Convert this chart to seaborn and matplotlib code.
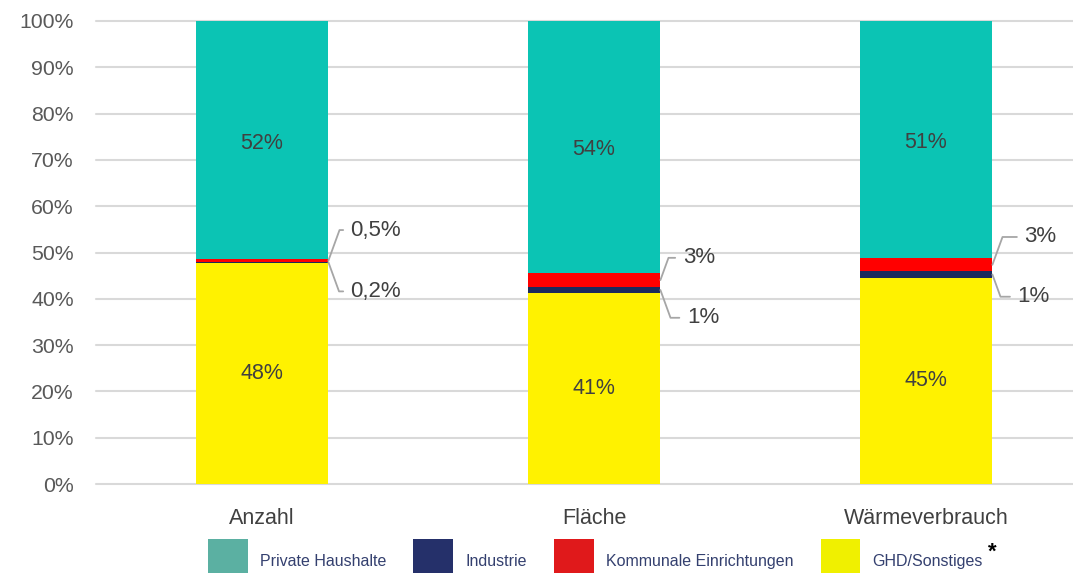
import numpy as np
import pandas as pd
import seaborn as sns
import matplotlib.pyplot as plt
from matplotlib.patches import Patch

# data (shares in %)
categories = ["Anzahl", "Fläche", "Wärmeverbrauch"]
series = ["GHD/Sonstiges", "Industrie", "Kommunale Einrichtungen", "Private Haushalte"]
ghd = [47.8, 41.3, 44.6]
industrie = [0.2, 1.2, 1.3]
kommunal = [0.5, 3.1, 2.9]
private = [51.5, 54.4, 51.2]

ghd_labels = ["48%", "41%", "45%"]
industrie_labels = ["0,2%", "1%", "1%"]
kommunal_labels = ["0,5%", "3%", "3%"]
private_labels = ["52%", "54%", "51%"]

legend_order = ["Private Haushalte", "Industrie", "Kommunale Einrichtungen", "GHD/Sonstiges"]

bar_colors = {
    "GHD/Sonstiges": "#fff200",
    "Industrie": "#1b2a5c",
    "Kommunale Einrichtungen": "#ff0000",
    "Private Haushalte": "#0bc4b4",
}
legend_colors = {
    "Private Haushalte": "#5bb0a2",
    "Industrie": "#25306a",
    "Kommunale Einrichtungen": "#e0191b",
    "GHD/Sonstiges": "#f0f000",
}

sns.set_style("white")
plt.rcParams["font.family"] = ["Liberation Sans", "DejaVu Sans"]

fig = plt.figure(figsize=(10.73, 5.73), dpi=100)
# axes run past the right edge like in the cropped original
ax = fig.add_axes([96 / 1073, 89 / 573, 996 / 1073, 463 / 573])

values = {"GHD/Sonstiges": ghd, "Industrie": industrie,
          "Kommunale Einrichtungen": kommunal, "Private Haushalte": private}

bottom = np.zeros(len(categories))
bottoms = {}
for s in series:
    bottoms[s] = bottom.copy()
    sns.barplot(x=categories, y=values[s], bottom=bottom, color=bar_colors[s],
                saturation=1, width=0.4, errorbar=None, ax=ax, zorder=3, linewidth=0)
    bottom = bottom + np.array(values[s])

ax.set_xlim(-0.5, 2.5)
ax.set_ylim(0, 100)
ax.set_yticks(range(0, 101, 10))
ax.set_yticklabels([f"{v}%" for v in range(0, 101, 10)])
ax.tick_params(axis="y", length=0, pad=16, labelsize=15.3, labelcolor="#595959")
ax.tick_params(axis="x", length=0, pad=17, labelsize=15.5, labelcolor="#404040")
ax.yaxis.grid(True, color="#d9d9d9", linewidth=1.5, zorder=0)
for gl in ax.get_ygridlines():
    gl.set_clip_on(False)
ax.xaxis.grid(False)
for sp in ax.spines.values():
    sp.set_visible(False)
ax.set_xlabel("")
ax.set_ylabel("")

# labels inside large segments
for i in range(len(categories)):
    ax.text(i, bottoms["GHD/Sonstiges"][i] + ghd[i] / 2, ghd_labels[i],
            ha="center", va="center", fontsize=15.5, color="#404040", zorder=4)
    ax.text(i, bottoms["Private Haushalte"][i] + private[i] / 2 - 0.6, private_labels[i],
            ha="center", va="center", fontsize=15.5, color="#404040", zorder=4)

# callouts for the thin segments
half_w = 0.2
up_offsets = [(16, 22), (16, 16), (23, 20)]
down_offsets = [(16, -21), (19, -20), (18, -16)]
line_kw = dict(arrowstyle="-", color="#a6a6a6", lw=1.3, shrinkA=3, shrinkB=0)
for i in range(len(categories)):
    y_k = bottoms["Kommunale Einrichtungen"][i] + kommunal[i] / 2
    ax.annotate(kommunal_labels[i], xy=(i + half_w, y_k), xytext=up_offsets[i],
                textcoords="offset points", ha="left", va="center",
                fontsize=16, color="#404040",
                arrowprops=dict(connectionstyle="angle,angleA=0,angleB=70,rad=0", **line_kw))
    y_i = bottoms["Industrie"][i] + industrie[i] / 2
    ax.annotate(industrie_labels[i], xy=(i + half_w, y_i), xytext=down_offsets[i],
                textcoords="offset points", ha="left", va="center",
                fontsize=16, color="#404040",
                arrowprops=dict(connectionstyle="angle,angleA=0,angleB=-70,rad=0", **line_kw))

# legend at the bottom, partly cut off like the original
handles = [Patch(facecolor=legend_colors[s], edgecolor="none", label=s) for s in legend_order]
leg = fig.legend(handles=handles, loc="upper left", bbox_to_anchor=(208 / 1073, 1 - 539 / 573),
                 ncol=4, frameon=False, fontsize=11.5, handlelength=2.5, handleheight=3.9,
                 handletextpad=0.75, columnspacing=1.7, borderpad=0, borderaxespad=0)
for t in leg.get_texts():
    t.set_color("#34406f")
fig.text(988 / 1073, 1 - 552 / 573, "*", fontsize=16, fontweight="bold", color="black",
         ha="left", va="center")

fig.savefig("out.png", dpi=100)
